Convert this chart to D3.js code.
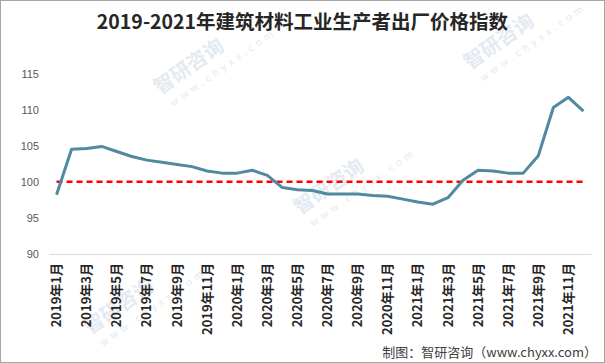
<!DOCTYPE html>
<html>
<head>
<meta charset="utf-8">
<script src="https://cdn.jsdelivr.net/npm/d3@7"></script>
<style>
  html, body { margin: 0; padding: 0; background: #fff; }
  svg { display: block; }
  text { font-family: "Noto Sans CJK SC", "Microsoft YaHei", sans-serif; }
</style>
</head>
<body>
<div id="root"></div>
<script>
const months = [
  '2019年1月', '2019年2月', '2019年3月', '2019年4月', '2019年5月', '2019年6月',
  '2019年7月', '2019年8月', '2019年9月', '2019年10月', '2019年11月', '2019年12月',
  '2020年1月', '2020年2月', '2020年3月', '2020年4月', '2020年5月', '2020年6月',
  '2020年7月', '2020年8月', '2020年9月', '2020年10月', '2020年11月', '2020年12月',
  '2021年1月', '2021年2月', '2021年3月', '2021年4月', '2021年5月', '2021年6月',
  '2021年7月', '2021年8月', '2021年9月', '2021年10月', '2021年11月', '2021年12月',
];
const priceIndex = [
  98.2, 104.5, 104.6, 104.9, 104.2, 103.5, 103.0, 102.7, 102.4, 102.1, 101.5, 101.2,
  101.2, 101.6, 100.9, 99.2, 98.9, 98.8, 98.3, 98.3, 98.3, 98.1, 98.0, 97.6,
  97.2, 96.9, 97.8, 100.2, 101.6, 101.5, 101.2, 101.2, 103.6, 110.3, 111.7, 109.8,
];
const yTicks = [90, 95, 100, 105, 110, 115];
const baseline = 100;

const width = 605;
const height = 363;

const svg = d3.select('#root').append('svg')
  .attr('width', width)
  .attr('height', height);

// faint watermarks, kept inside the frame
const marks = [[160, 95], [300, 215], [470, 70], [90, 335]];
marks.forEach(([x, y]) => {
  const g = svg.append('g')
    .attr('transform', `translate(${x}, ${y}) rotate(-35)`)
    .attr('fill', '#e4eaf2');
  g.append('text').attr('x', 0).attr('y', 0)
    .style('font-size', '20px').style('font-weight', 'bold').text('智研咨询');
  g.append('text').attr('x', 4).attr('y', 17)
    .style('font-size', '10px').style('letter-spacing', '4px').text('www.chyxx.com');
});

svg.append('text')
  .attr('x', width / 2)
  .attr('y', 29)
  .attr('text-anchor', 'middle')
  .style('font-size', '19.5px')
  .style('font-weight', 'bold')
  .attr('fill', '#262626')
  .text('2019-2021年建筑材料工业生产者出厂价格指数');

const xScale = d3.scaleBand()
  .domain(months)
  .range([49, 591])
  .padding(0);

const yScale = d3.scaleLinear()
  .domain([90, 115])
  .range([254, 73.5]);

const cx = d => xScale(d) + xScale.bandwidth() / 2;

// y axis labels only
const yAxis = d3.axisLeft(yScale)
  .tickValues(yTicks)
  .tickSize(0)
  .tickPadding(0);

const yG = svg.append('g')
  .attr('transform', 'translate(39, 0)')
  .call(yAxis);
yG.select('.domain').remove();
yG.selectAll('text')
  .attr('fill', '#595959')
  .style('font-size', '11px')
  .style('font-family', '"Liberation Sans", Arial, sans-serif');

// x axis
const xAxis = d3.axisBottom(xScale)
  .tickValues(months.filter((d, i) => i % 2 === 0))
  .tickSize(0)
  .tickPadding(0);

const xG = svg.append('g')
  .attr('transform', `translate(0, ${yScale(90)})`)
  .call(xAxis);
xG.select('.domain').attr('stroke', '#d9d9d9').attr('stroke-width', 1);
xG.selectAll('text')
  .attr('transform', 'rotate(-90)')
  .attr('text-anchor', 'end')
  .attr('x', -9)
  .attr('y', 0)
  .attr('dy', '0.35em')
  .attr('fill', '#262626')
  .style('font-size', '13px')
  .style('font-weight', 'bold');

// reference line at 100
svg.append('line')
  .attr('x1', cx(months[0]))
  .attr('x2', cx(months[months.length - 1]))
  .attr('y1', yScale(baseline))
  .attr('y2', yScale(baseline))
  .attr('stroke', '#ff0000')
  .attr('stroke-width', 2.5)
  .attr('stroke-dasharray', '6,4');

const line = d3.line()
  .x((d, i) => cx(months[i]))
  .y(d => yScale(d));

svg.append('path')
  .datum(priceIndex)
  .attr('fill', 'none')
  .attr('stroke', '#4f8aa0')
  .attr('stroke-width', 3)
  .attr('stroke-linejoin', 'round')
  .attr('d', line);

svg.append('text')
  .attr('x', 597)
  .attr('y', 357)
  .attr('text-anchor', 'end')
  .attr('fill', '#404040')
  .style('font-size', '13px')
  .text('制图：智研咨询（www.chyxx.com）');

svg.append('rect')
  .attr('x', 0.5)
  .attr('y', 0.5)
  .attr('width', width - 1)
  .attr('height', height - 1)
  .attr('fill', 'none')
  .attr('stroke', '#a6a6a6')
  .attr('stroke-width', 1);
</script>
</body>
</html>
